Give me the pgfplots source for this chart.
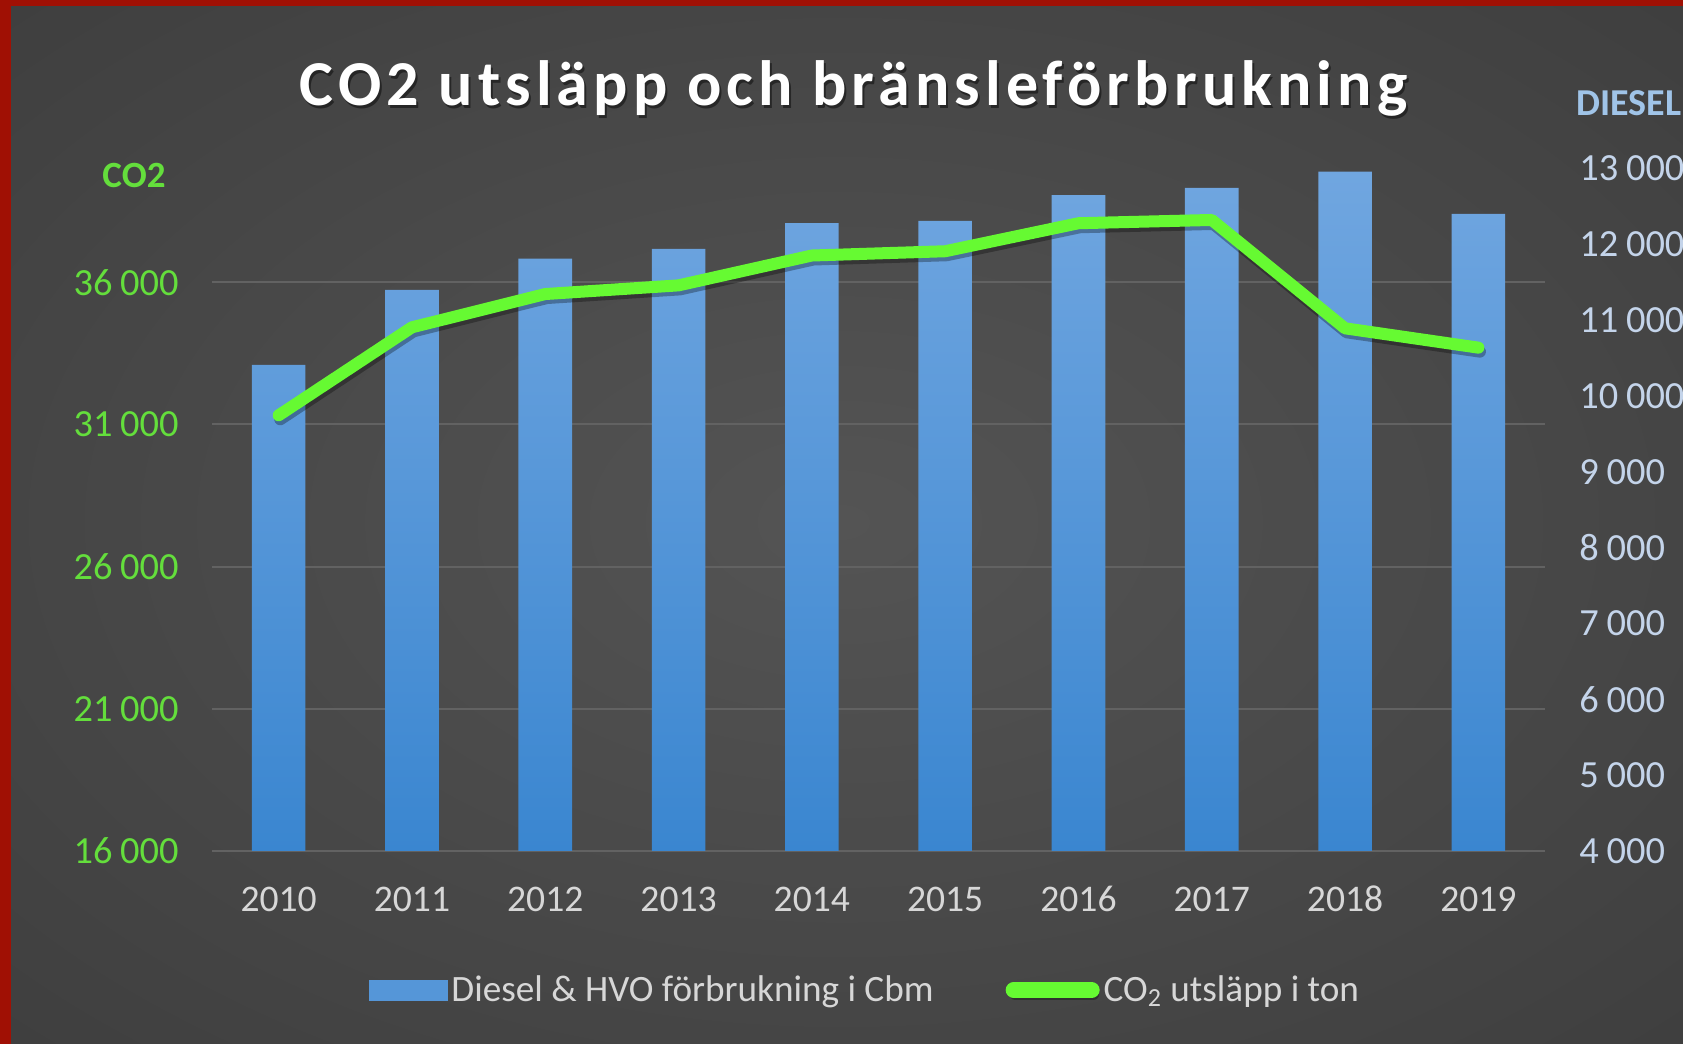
\documentclass[border=0pt]{standalone}
\usepackage{fontspec}
\setmainfont{Carlito}
\newfontfamily\titlefont[LetterSpace=8]{Carlito}
\usepackage{pgfplots}
\pgfplotsset{compat=1.18}
\definecolor{bgin}{RGB}{84,84,84}
\definecolor{bgmid}{RGB}{54,54,54}
\definecolor{bgout}{RGB}{36,36,36}
\definecolor{redb}{RGB}{160,16,4}
\definecolor{bartop}{RGB}{112,166,224}
\definecolor{barbot}{RGB}{58,134,208}
\definecolor{linegreen}{RGB}{102,250,50}
\definecolor{labgreen}{RGB}{100,222,60}
\definecolor{rlab}{RGB}{196,212,234}
\definecolor{dieselc}{RGB}{160,196,232}
\definecolor{xlab}{RGB}{215,215,215}
\definecolor{gridc}{RGB}{98,98,98}
\pgfdeclareradialshading{bgshade}{\pgfpoint{0bp}{0bp}}{color(0bp)=(bgin); color(50bp)=(bgmid); color(71bp)=(bgout)}
\begin{document}
\begin{tikzpicture}[x=1pt,y=1pt]
\useasboundingbox (0,0) rectangle (841.5,522);
\clip (0,0) rectangle (841.5,522);
\shade[shading=bgshade] (0,0) rectangle (841.5,522);
\fill[redb] (0,0) rectangle (5.5,522);
\fill[redb] (0,519) rectangle (841.5,522);
\node[anchor=base, text=black, opacity=0.45, inner sep=0pt] at (427.75,467.5) {\titlefont\bfseries\fontsize{32}{36}\selectfont CO2 utsläpp och bränsleförbrukning};
\node[anchor=base, text=white, inner sep=0pt] at (426.75,469) {\titlefont\bfseries\fontsize{32}{36}\selectfont CO2 utsläpp och bränsleförbrukning};
\node[anchor=base, text=labgreen, inner sep=0pt] at (67,428) {\bfseries\fontsize{18.5}{20}\selectfont CO2};
\node[anchor=base west, text=dieselc, inner sep=0pt] at (788,464) {\bfseries\fontsize{19}{20}\selectfont DIESEL};

\begin{axis}[
 at={(106pt,96.5pt)}, anchor=south west, scale only axis,
 width=666.5pt, height=341.25pt,
 xmin=-0.5, xmax=9.5, ymin=4000, ymax=13000,
 axis y line*=right, axis x line*=bottom,
 axis line style={draw=none},
 major tick length=0pt,
 xtick={0,1,2,3,4,5,6,7,8,9},
 xticklabels={2010,2011,2012,2013,2014,2015,2016,2017,2018,2019},
 ytick={4000,5000,6000,7000,8000,9000,10000,11000,12000,13000},
 scaled y ticks=false,
 /pgf/number format/assume math mode=true,
 yticklabel style={anchor=west, inner sep=0pt, xshift=17pt, text=rlab, font=\fontsize{19.2}{21}\selectfont, /pgf/number format/1000 sep={\hspace{0.2em}}},
 xticklabel style={anchor=base, inner sep=0pt, yshift=-30.5pt, text=xlab, font=\fontsize{18.8}{21}\selectfont},
 extra y ticks={4000,5875,7750,9625,11500},
 extra y tick labels={},
 extra y tick style={grid=major, major grid style={draw=gridc, line width=1pt}},
 ybar, bar width=26.8pt,
]
\addplot[draw=none, top color=bartop, bottom color=barbot, bar shift=0pt] coordinates {
(0,10410) (1,11400) (2,11810) (3,11940) (4,12280) (5,12310) (6,12650) (7,12745) (8,12960) (9,12400)};
\end{axis}

\begin{axis}[
 at={(106pt,96.5pt)}, anchor=south west, scale only axis,
 width=666.5pt, height=341.25pt,
 xmin=-0.5, xmax=9.5, ymin=16000, ymax=40000,
 axis y line*=left, axis x line=none,
 axis line style={draw=none},
 major tick length=0pt,
 ytick={16000,21000,26000,31000,36000},
 scaled y ticks=false,
 /pgf/number format/assume math mode=true,
 yticklabel style={anchor=east, inner sep=0pt, xshift=-16.5pt, text=labgreen, font=\fontsize{19.2}{21}\selectfont, /pgf/number format/1000 sep={\hspace{0.2em}}},
 clip=false,
 legend columns=2,
 legend cell align=left,
 legend style={at={(0.4905,-0.2037)}, anchor=center, draw=none, fill=none, text=xlab, font=\fontsize{18.6}{20}\selectfont, /tikz/every even column/.append style={column sep=34pt}},
]
\addlegendimage{legend image code/.code={\fill[bartop!50!barbot] (0pt,-5pt) rectangle (39pt,5pt);}}
\addlegendentry{Diesel \& HVO förbrukning i Cbm}
\addplot[linegreen, line width=6pt, line join=round, line cap=round,
  preaction={draw=black, opacity=0.3, line width=6pt, transform canvas={xshift=0.8pt, yshift=-2pt}},
  legend image code/.code={\draw[linegreen, line width=8pt, line cap=round] (4pt,0pt) -- (43pt,0pt);}] coordinates {
(0,31320) (1,34415) (2,35585) (3,35890) (4,36940) (5,37090) (6,38075) (7,38190) (8,34380) (9,33700)};
\addlegendentry{CO\textsubscript{2} utsläpp i ton}
\end{axis}
\end{tikzpicture}
\end{document}
